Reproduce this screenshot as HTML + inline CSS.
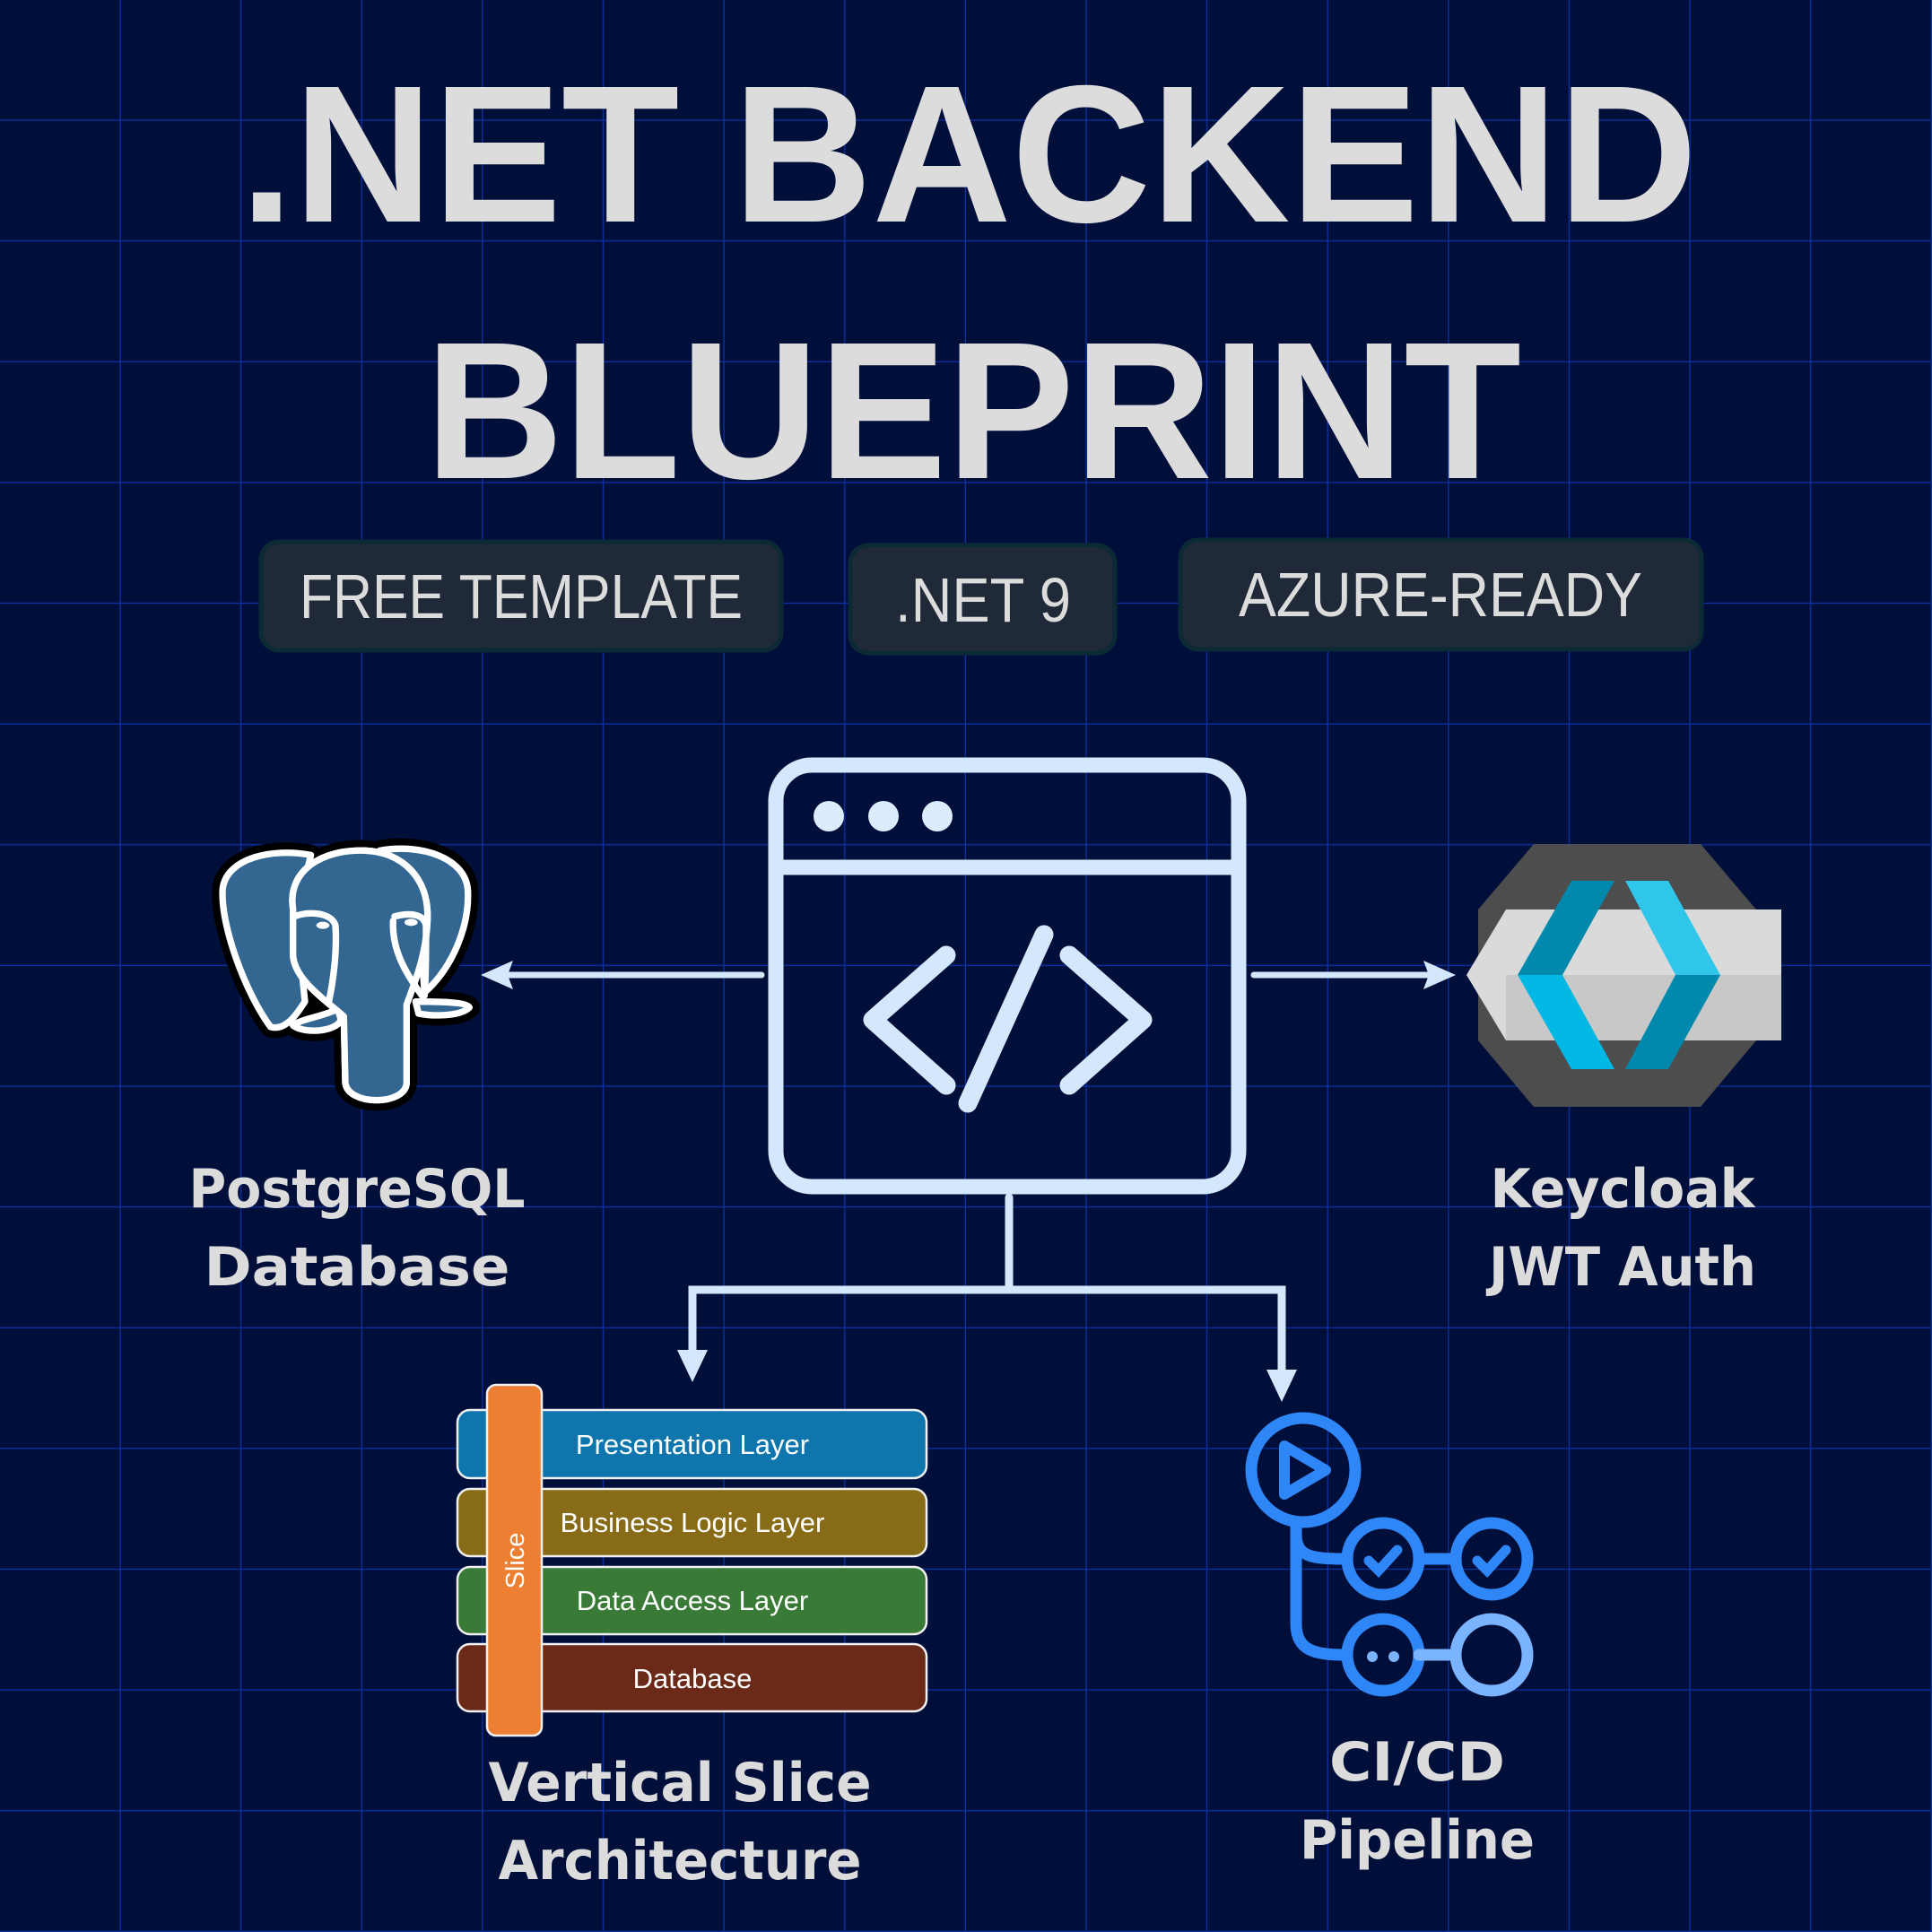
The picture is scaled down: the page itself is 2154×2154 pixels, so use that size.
<!DOCTYPE html>
<html><head><meta charset="utf-8"><style>
html,body{margin:0;padding:0;background:#000f3a;}
body{width:2154px;height:2154px;position:relative;overflow:hidden;}
svg{position:absolute;left:0;top:0;}
</style></head><body>
<svg width="2154" height="2154" viewBox="0 0 2154 2154">
<defs>
<pattern id="grid" width="134.625" height="134.625" patternUnits="userSpaceOnUse">
<path d="M134.625 0V134.625M0 134.625H134.625" stroke="#0d32a8" stroke-width="2.5" fill="none"/>
</pattern>
<g id="ele">
<path d="M380,100 C250,75 100,110 85,210 C75,330 160,560 245,675 C300,690 340,620 360,590 L330,300 Z"/>
<path d="M610,85 C750,60 900,110 905,220 C910,330 860,470 760,560 L740,300 Z"/>
<path d="M320,280 C300,150 420,80 560,85 C690,90 770,180 770,300 C770,420 730,520 700,600 L700,860 C700,940 500,940 495,860 L490,640 C450,600 320,520 320,430 Z"/>
<path d="M470,615 C420,640 340,650 320,670 C360,700 470,690 480,650 Z"/>
<path d="M730,590 C800,590 900,590 910,610 C880,640 790,640 740,630 Z"/>
</g>
</defs>
<rect width="2154" height="2154" fill="#000f3a"/>
<rect width="2154" height="2154" fill="url(#grid)"/>

<g font-family="Liberation Sans, sans-serif" font-weight="bold" fill="#dcdcdc" text-anchor="middle">
<text x="1080" y="247" font-size="218" textLength="1625" lengthAdjust="spacingAndGlyphs">.NET BACKEND</text>
<text x="1085" y="533" font-size="218" textLength="1222" lengthAdjust="spacingAndGlyphs">BLUEPRINT</text>
</g>

<g stroke="#0c2a35" stroke-width="5" fill="#1f2937">
<rect x="291" y="604" width="580" height="121" rx="20"/>
<rect x="948" y="608" width="295" height="120" rx="20"/>
<rect x="1316" y="602" width="581" height="122" rx="20"/>
</g>
<g font-family="Liberation Sans, sans-serif" fill="#dcdcdc" text-anchor="middle" font-size="70">
<text x="581" y="689" textLength="494" lengthAdjust="spacingAndGlyphs">FREE TEMPLATE</text>
<text x="1096" y="693" textLength="196" lengthAdjust="spacingAndGlyphs">.NET 9</text>
<text x="1606" y="687" textLength="450" lengthAdjust="spacingAndGlyphs">AZURE-READY</text>
</g>

<g stroke="#d3e8fc" fill="none" stroke-width="17" stroke-linecap="round" stroke-linejoin="round">
<rect x="865" y="853" width="516" height="470" rx="40"/>
<line x1="865" y1="967" x2="1381" y2="967"/>
<polyline points="1055,1065 973,1137 1055,1210" stroke-width="21"/>
<line x1="1164" y1="1042" x2="1079" y2="1230" stroke-width="21"/>
<polyline points="1192,1065 1274,1137 1192,1210" stroke-width="21"/>
</g>
<g fill="#dcecfc"><circle cx="924" cy="910" r="17"/><circle cx="985" cy="910" r="17"/><circle cx="1045" cy="910" r="17"/></g>

<g stroke="#d3e8fc" stroke-width="7" fill="none" stroke-linecap="round">
<line x1="849" y1="1087" x2="560" y2="1087"/>
<line x1="1398" y1="1087" x2="1600" y2="1087"/>
<polyline points="1125,1335 1125,1438" stroke-width="9"/>
<polyline points="772,1510 772,1438 1429,1438 1429,1530" stroke-width="9"/>
</g>
<g fill="#d3e8fc">
<polygon points="536,1087 572,1071 566,1087 572,1103"/>
<polygon points="1623,1087 1587,1071 1593,1087 1587,1103"/>
<polygon points="772,1541 755,1505 789,1505"/>
<polygon points="1429,1563 1412,1527 1446,1527"/>
</g>

<g transform="translate(220,920) scale(0.3333)">
<use href="#ele" fill="#000" stroke="#000" stroke-width="70" stroke-linejoin="round"/>
<use href="#ele" fill="#336791" stroke="#fff" stroke-width="22" stroke-linejoin="round"/>
<path d="M320,280 C300,150 420,80 560,85 C690,90 770,180 770,300 C770,420 730,520 700,600 L700,860 C700,940 500,940 495,860 L490,640 C450,600 320,520 320,430 Z" fill="#336791" stroke="#fff" stroke-width="22" stroke-linejoin="round"/>
<g fill="none" stroke="#fff" stroke-width="22" stroke-linecap="round">
<path d="M325,305 C380,285 450,295 462,335 C468,420 455,520 440,590"/>
<path d="M660,305 C720,290 762,300 765,340 C765,430 765,510 760,570"/>
<path d="M655,320 C650,420 700,500 755,575"/>
</g>
<ellipse cx="420" cy="335" rx="22" ry="12" fill="#fff"/>
<ellipse cx="715" cy="325" rx="22" ry="12" fill="#fff"/>
</g>

<polygon points="1710,941 1896,941 1958,1014 1958,1160 1896,1234 1710,1234 1648,1160 1648,1014" fill="#4d4d4d"/>
<polygon points="1635,1087 1679,1014 1986,1014 1986,1160 1679,1160" fill="#dadada"/>
<polygon points="1679,1087 1986,1087 1986,1160 1679,1160" fill="#c8c8c8"/>
<polygon points="1752,982 1800,982 1742,1087 1692,1087" fill="#0089ad"/>
<polygon points="1692,1087 1742,1087 1800,1192 1752,1192" fill="#00b8e3"/>
<polygon points="1812,982 1860,982 1918,1087 1868,1087" fill="#2fc6ea"/>
<polygon points="1868,1087 1918,1087 1860,1192 1812,1192" fill="#0089ad"/>

<g fill="none" stroke="#2f86f6" stroke-width="13" stroke-linecap="round">
<circle cx="1453" cy="1639" r="58"/>
<circle cx="1542" cy="1738" r="40"/>
<circle cx="1663" cy="1738" r="40"/>
<circle cx="1542" cy="1845" r="40"/>
<path d="M1445,1697 L1445,1710 C1445,1735 1460,1738 1500,1738"/>
<path d="M1445,1700 L1445,1810 C1445,1840 1465,1845 1500,1845"/>
<line x1="1582" y1="1738" x2="1623" y2="1738"/>
<path d="M1432,1612 L1432,1666 L1478,1639 Z" stroke-linejoin="round" stroke-width="12"/>
<polyline points="1526,1740 1537,1751 1558,1728" stroke-width="11"/>
<polyline points="1647,1740 1658,1751 1679,1728" stroke-width="11"/>
</g>
<circle cx="1663" cy="1845" r="40" fill="none" stroke="#7ab3ff" stroke-width="13"/>
<line x1="1582" y1="1845" x2="1615" y2="1845" stroke="#7ab3ff" stroke-width="13" stroke-linecap="round"/>
<circle cx="1530" cy="1847" r="6" fill="#7ab3ff"/><circle cx="1554" cy="1847" r="6" fill="#7ab3ff"/>

<g stroke="#f0f0f0" stroke-width="2.5">
<rect x="510" y="1572" width="523" height="76" rx="14" fill="#0f75ad"/>
<rect x="510" y="1660" width="523" height="75" rx="14" fill="#876b17"/>
<rect x="510" y="1747" width="523" height="75" rx="14" fill="#3a7a37"/>
<rect x="510" y="1833" width="523" height="75" rx="14" fill="#6b2a17"/>
<rect x="543" y="1544" width="61" height="391" rx="10" fill="#ec7f32"/>
</g>
<g font-family="Liberation Sans, sans-serif" fill="#fff" font-size="31" text-anchor="middle">
<text x="772" y="1621">Presentation Layer</text>
<text x="772" y="1708">Business Logic Layer</text>
<text x="772" y="1795">Data Access Layer</text>
<text x="772" y="1882">Database</text>
<text transform="translate(584,1740) rotate(-90)" font-size="29">Slice</text>
</g>

<g font-family="DejaVu Sans, sans-serif" font-weight="bold" fill="#dcdcdc" text-anchor="middle" font-size="60">
<text x="398" y="1346" textLength="375" lengthAdjust="spacingAndGlyphs">PostgreSQL</text>
<text x="398" y="1433" textLength="341" lengthAdjust="spacingAndGlyphs">Database</text>
<text x="1809" y="1346" textLength="295" lengthAdjust="spacingAndGlyphs">Keycloak</text>
<text x="1809" y="1433" textLength="298" lengthAdjust="spacingAndGlyphs">JWT Auth</text>
<text x="758" y="2008" textLength="427" lengthAdjust="spacingAndGlyphs">Vertical Slice</text>
<text x="758" y="2095" textLength="405" lengthAdjust="spacingAndGlyphs">Architecture</text>
<text x="1580" y="1985" textLength="196" lengthAdjust="spacingAndGlyphs">CI/CD</text>
<text x="1580" y="2072" textLength="262" lengthAdjust="spacingAndGlyphs">Pipeline</text>
</g>
</svg>
</body></html>
